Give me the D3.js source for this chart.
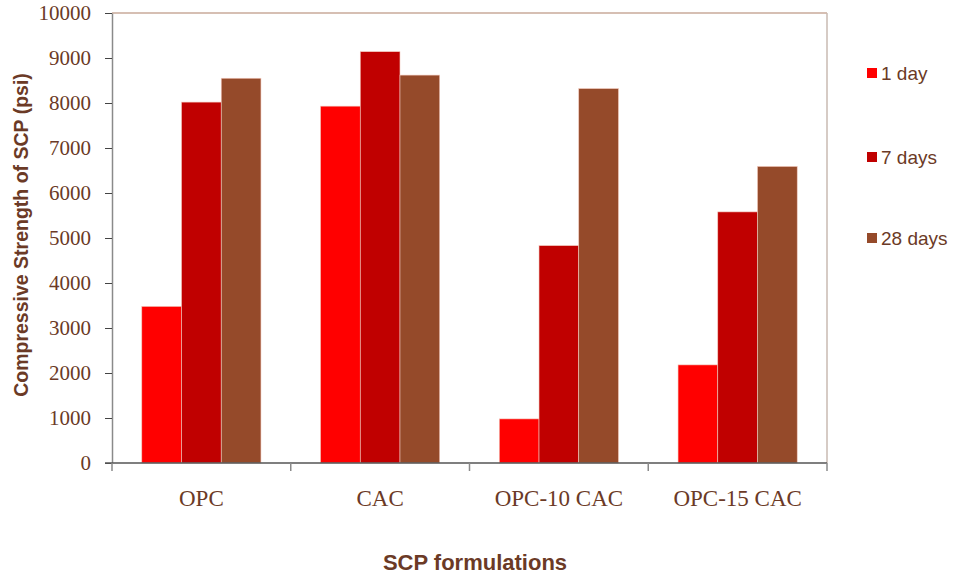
<!DOCTYPE html>
<html>
<head>
<meta charset="utf-8">
<script src="https://cdn.jsdelivr.net/npm/d3@7.9.0/dist/d3.min.js"></script>
<style>
  body { margin: 0; background: #fff; }
  svg { display: block; }
</style>
</head>
<body>
<svg id="chart" width="957" height="579"></svg>
<script>
  // ================================
  // Data
  // ================================
  const formulations = ["OPC", "CAC", "OPC-10 CAC", "OPC-15 CAC"];
  const ages = ["1 day", "7 days", "28 days"];
  const day1 = [3480, 7930, 980, 2180];
  const day7 = [8020, 9140, 4830, 5580];
  const day28 = [8550, 8620, 8320, 6590];
  const yTicks = [0, 1000, 2000, 3000, 4000, 5000, 6000, 7000, 8000, 9000, 10000];
  const ageColors = ["#ff0000", "#c00000", "#954a2a"];

  const series = [day1, day7, day28];
  const textColor = "#6b3a26";

  const svg = d3.select("#chart");
  const margin = { left: 112, top: 13, right: 130, bottom: 116 };
  const width = 957 - margin.left - margin.right;
  const height = 579 - margin.top - margin.bottom;

  const g = svg.append("g").attr("transform", `translate(${margin.left},${margin.top})`);

  const x0 = d3.scaleBand().domain(formulations).range([0, width]).padding(0);
  // three bars take 3/4.5 of each group, gaps of 1.5 bars between groups
  const x1 = d3.scaleBand().domain(ages)
    .range([x0.bandwidth() * (0.75 / 4.5), x0.bandwidth() * (3.75 / 4.5)]);
  const y = d3.scaleLinear().domain([0, 10000]).range([height, 0]);

  // ================================
  // Frame: top and right border
  // ================================
  g.append("line").attr("x1", 0).attr("x2", width).attr("y1", 0).attr("y2", 0)
    .attr("stroke", "#c9aa9a").attr("stroke-width", 1.5);
  g.append("line").attr("x1", width).attr("x2", width).attr("y1", 0).attr("y2", height)
    .attr("stroke", "#c8bab2").attr("stroke-width", 1.5);

  // ================================
  // Bars
  // ================================
  const groups = g.selectAll("g.group")
    .data(formulations)
    .join("g")
    .attr("class", "group")
    .attr("transform", (d) => `translate(${x0(d)},0)`);

  groups.selectAll("rect")
    .data((d, i) => ages.map((a, j) => ({ age: a, value: series[j][i], j })))
    .join("rect")
    .attr("x", (d) => x1(d.age))
    .attr("y", (d) => y(d.value))
    .attr("width", x1.bandwidth())
    .attr("height", (d) => height - y(d.value))
    .attr("fill", (d) => ageColors[d.j])
    .attr("stroke", "#f2c8bc")
    .attr("stroke-width", 0.6);

  // ================================
  // Y axis
  // ================================
  const yAxis = g.append("g")
    .call(d3.axisLeft(y).tickValues(yTicks).tickFormat(d3.format("d"))
      .tickSize(7).tickPadding(14).tickSizeOuter(0));
  yAxis.select(".domain").attr("stroke", "#8a8a8a").attr("stroke-width", 1.5);
  yAxis.selectAll(".tick line").attr("stroke", "#444");
  yAxis.selectAll(".tick text")
    .attr("fill", textColor)
    .style("font-family", "'Liberation Serif', 'DejaVu Serif', serif")
    .style("font-size", "21px");

  // ================================
  // X axis
  // ================================
  const xAxis = g.append("g").attr("transform", `translate(0,${height})`);
  xAxis.append("line").attr("x1", -7).attr("x2", width).attr("y1", 0).attr("y2", 0)
    .attr("stroke", "#555").attr("stroke-width", 1.5);
  xAxis.selectAll("line.sep")
    .data(formulations.map((d) => x0(d)).concat([width]))
    .join("line")
    .attr("class", "sep")
    .attr("x1", (d) => d).attr("x2", (d) => d)
    .attr("y1", 0).attr("y2", 8)
    .attr("stroke", "#8a8a8a").attr("stroke-width", 1.5);
  xAxis.selectAll("text.cat")
    .data(formulations)
    .join("text")
    .attr("class", "cat")
    .attr("x", (d) => x0(d) + x0.bandwidth() / 2)
    .attr("y", 43)
    .attr("text-anchor", "middle")
    .attr("fill", textColor)
    .style("font-family", "'Liberation Serif', 'DejaVu Serif', serif")
    .style("font-size", "23px")
    .text((d) => d);

  // ================================
  // Axis titles
  // ================================
  svg.append("text")
    .attr("transform", `translate(28,235) rotate(-90)`)
    .attr("text-anchor", "middle")
    .attr("fill", textColor)
    .style("font-family", "'Liberation Sans', Arial, sans-serif")
    .style("font-weight", "bold")
    .style("font-size", "19.5px")
    .text("Compressive Strength of SCP (psi)");

  svg.append("text")
    .attr("x", 475)
    .attr("y", 570)
    .attr("text-anchor", "middle")
    .attr("fill", textColor)
    .style("font-family", "'Liberation Sans', Arial, sans-serif")
    .style("font-weight", "bold")
    .style("font-size", "22px")
    .text("SCP formulations");

  // ================================
  // Legend
  // ================================
  const legendY = [73, 157, 238];
  const legend = svg.selectAll("g.legend-item")
    .data(ages)
    .join("g")
    .attr("class", "legend-item")
    .attr("transform", (d, i) => `translate(867,${legendY[i]})`);
  legend.append("rect")
    .attr("x", 0).attr("y", -5).attr("width", 10).attr("height", 10)
    .attr("fill", (d, i) => ageColors[i]);
  legend.append("text")
    .attr("x", 14).attr("y", 7)
    .attr("fill", textColor)
    .style("font-family", "'Liberation Sans', Arial, sans-serif")
    .style("font-size", "19px")
    .text((d) => d);
</script>
</body>
</html>
